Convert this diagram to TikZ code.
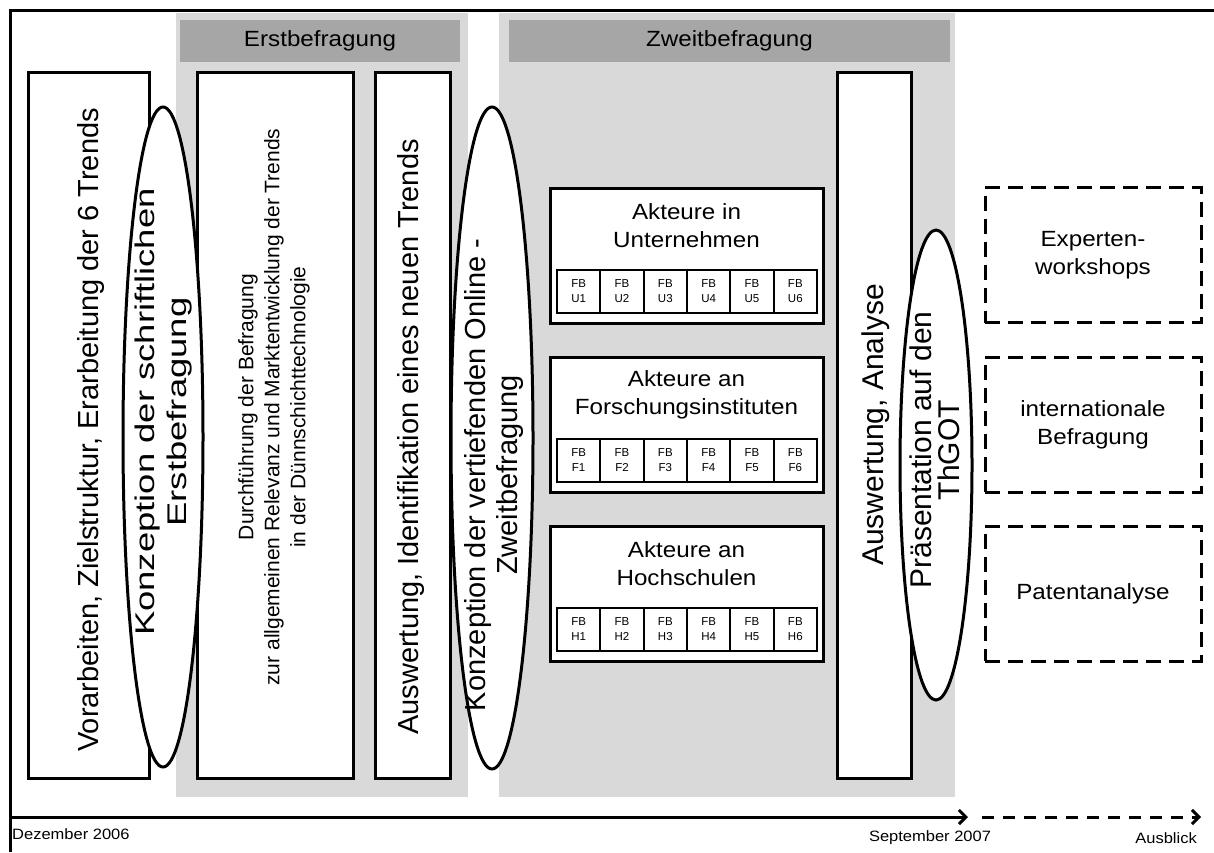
\documentclass[tikz,border=0pt]{standalone}
\usepackage{fontspec}
\setmainfont{Liberation Sans}
\newfontfamily\widefont[FakeStretch=1.1]{Liberation Sans}
\newfontfamily\rotwidefont[FakeStretch=1.35]{Liberation Sans}
\usepackage{tikz}
\usetikzlibrary{shapes.geometric, arrows.meta, positioning}
\definecolor{phasegray}{RGB}{217,217,217}
\definecolor{headgray}{RGB}{166,166,166}

\tikzset{
  phase/.style={fill=phasegray, draw=none},
  phasehead/.style={fill=headgray, draw=none, font=\widefont\fontsize{22}{24}\selectfont},
  taskbox/.style={draw, line width=3pt, fill=white, inner sep=0pt},
  tasktext/.style={rotate=90, align=center, inner sep=0pt, font=\fontsize{29}{32}\selectfont},
  milestone/.style={ellipse, draw, line width=3pt, fill=white, inner sep=0pt},
  groupbox/.style={draw, line width=3pt, fill=white, minimum width=273pt, minimum height=135pt, inner sep=0pt},
  grouptitle/.style={align=center, font=\widefont\fontsize{22}{28}\selectfont},
  fbcell/.style={draw, line width=2pt, minimum width=43.33pt, minimum height=43pt, inner sep=0pt, align=center, font=\fontsize{11.5}{15}\selectfont},
  outlook/.style={draw, line width=3pt, dash pattern=on 15pt off 8pt, minimum width=216pt, minimum height=135pt, align=center, font=\widefont\fontsize{22}{28}\selectfont},
  timeline/.style={line width=3pt, -{Straight Barb[length=7pt,width=14pt]}},
  datelabel/.style={font=\widefont\fontsize{15}{16}\selectfont, inner sep=0pt},
}

\begin{document}
\begin{tikzpicture}[x=1pt, y=-1pt]
  \useasboundingbox (0,0) rectangle (1214,852);
  % Frame
  \draw[line width=3pt] (10,852) -- (10,10) -- (1214,10);
  % Phases
  \fill[phase] (176,13) rectangle (468,797);
  \fill[phase] (499,13) rectangle (955,797);
  \node[phasehead, minimum width=280pt, minimum height=42pt] (erst) at (320,41) {Erstbefragung};
  \node[phasehead, minimum width=441pt, minimum height=42pt] (zweit) at (729.5,41) {Zweitbefragung};
  % Work packages
  \node[taskbox, minimum width=121pt, minimum height=706pt] (vorarb) at (88.5,425) {};
  \node[taskbox, minimum width=156pt, minimum height=706pt] (durchf) at (275,425) {};
  \node[taskbox, minimum width=75pt, minimum height=706pt] (auswErst) at (412.5,425) {};
  \node[taskbox, minimum width=74pt, minimum height=706pt] (auswZweit) at (874,425) {};
  \node[tasktext] (vorarbText) at (91,430) {Vorarbeiten, Zielstruktur, Erarbeitung der 6 Trends};
  \node[tasktext, font=\fontsize{21}{26}\selectfont] (durchfText) at (274,407)
    {Durchführung der Befragung\\zur allgemeinen Relevanz und Marktentwicklung der Trends\\in der Dünnschichttechnologie};
  \node[tasktext] (auswErstText) at (411,437) {Auswertung, Identifikation eines neuen Trends};
  \node[tasktext, font=\fontsize{30}{32}\selectfont] (auswZweitText) at (876,425) {Auswertung, Analyse};
  % Milestones
  \node[milestone, minimum width=80pt, minimum height=660pt] (konzErst) at (163,437) {};
  \node[tasktext, font=\rotwidefont\fontsize{27}{32}\selectfont] (konzErstText) at (164,412)
    {Konzeption der schriftlichen\\Erstbefragung};
  \node[milestone, minimum width=82pt, minimum height=662pt] (konzZweit) at (492,438) {};
  \node[tasktext] (konzZweitText) at (494,475)
    {Konzeption der vertiefenden Online -\\Zweitbefragung};
  \node[milestone, minimum width=72pt, minimum height=470pt] (praes) at (936,465) {};
  \node[tasktext, font=\fontsize{30}{28}\selectfont] (praesText) at (935,450)
    {Präsentation auf den\\ThGOT};
  % Groups of actors
  \foreach \row/\top/\first/\second in {U/188/Akteure in/Unternehmen,
      F/357/Akteure an/Forschungsinstituten, H/526/Akteure an/Hochschulen} {
    \node[groupbox] (grp\row) at (686.5,\top+67.5) {};
    \node[grouptitle] (title\row) at (686.5,\top+38) {\first\\\second};
    \foreach \i in {1,...,6}
      \node[fbcell] (fb\row\i) at ({557+43.33*(\i-0.5)},\top+103.5) {FB\\\row\i};
  }
  % Outlook
  \node[outlook] (workshops) at (1093,255) {Experten-\\workshops};
  \node[outlook] (internat) at (1093,424.5) {internationale\\Befragung};
  \node[outlook] (patent) at (1093,593.5) {Patentanalyse};
  % Timeline
  \coordinate (tstart) at (10,817);
  \coordinate (tsep) at (968,817);
  \coordinate (tdash) at (982,817);
  \coordinate (tend) at (1201,817);
  \draw[timeline] (tstart) -- (tsep);
  \draw[timeline, dash pattern=on 12pt off 9pt] (tdash) -- (tend);
  \node[datelabel, anchor=west] (dez) at (12,834) {Dezember 2006};
  \node[datelabel] (sept) at (930,838) {September 2007};
  \node[datelabel, anchor=east] (ausblick) at (1197,838) {Ausblick};
\end{tikzpicture}
\end{document}
